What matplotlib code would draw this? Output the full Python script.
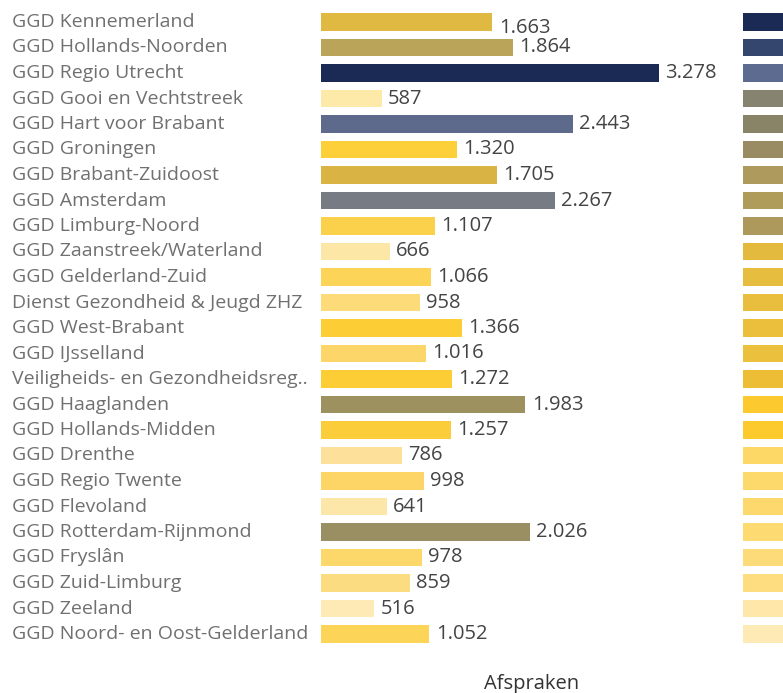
import matplotlib
matplotlib.use("Agg")
import matplotlib.pyplot as plt
from matplotlib.transforms import blended_transform_factory

regions = [
    "GGD Kennemerland", "GGD Hollands-Noorden", "GGD Regio Utrecht",
    "GGD Gooi en Vechtstreek", "GGD Hart voor Brabant", "GGD Groningen",
    "GGD Brabant-Zuidoost", "GGD Amsterdam", "GGD Limburg-Noord",
    "GGD Zaanstreek/Waterland", "GGD Gelderland-Zuid",
    "Dienst Gezondheid & Jeugd ZHZ", "GGD West-Brabant", "GGD IJsselland",
    "Veiligheids- en Gezondheidsreg..", "GGD Haaglanden", "GGD Hollands-Midden",
    "GGD Drenthe", "GGD Regio Twente", "GGD Flevoland", "GGD Rotterdam-Rijnmond",
    "GGD Fryslân", "GGD Zuid-Limburg", "GGD Zeeland",
    "GGD Noord- en Oost-Gelderland",
]
afspraken = [1663, 1864, 3278, 587, 2443, 1320, 1705, 2267, 1107, 666, 1066,
             958, 1366, 1016, 1272, 1983, 1257, 786, 998, 641, 2026, 978, 859,
             516, 1052]
bar_colors = ["#dfb942", "#b9a45a", "#1b2a55", "#fde9a8", "#5e6a8c", "#fdd03a",
              "#d9b444", "#777b83", "#fbd04a", "#fde7a6", "#fcd558", "#fddb78",
              "#fdcd35", "#fcd668", "#fccd35", "#9e9160", "#fccd3a", "#fde19a",
              "#fcd566", "#fde7a8", "#9a8f62", "#fcd86b", "#fcdc80", "#feeab4",
              "#fcd458"]

# second panel: bars are cut off by the right edge of the image
right_colors = ["#1b2a55", "#34456e", "#5d6b90", "#868470", "#898367", "#9a8c62",
                "#ad9a5c", "#b09c5a", "#ad995b", "#e3b93e", "#e6bd3e", "#e9be3e",
                "#ebbf3b", "#ebc03d", "#ecbd35", "#fcc92e", "#fdca2e", "#fdd866",
                "#fdd86a", "#fdd96d", "#fdda72", "#fddb78", "#fedc80", "#fee7a8",
                "#feeab4"]
right_visible = [1.0] * len(right_colors)  # clipped: true lengths not visible

W, H = 783, 693
fig = plt.figure(figsize=(W / 100, H / 100), dpi=100)
fig.patch.set_facecolor("white")

top_px, bot_px = 9.25, 646.75
ax_bottom = 1 - bot_px / H
ax_height = (bot_px - top_px) / H

left_px, right_px = 321, 735
ax = fig.add_axes([left_px / W, ax_bottom, (right_px - left_px) / W, ax_height])
n = len(regions)
y = list(range(n))
ax.barh(y, afspraken, height=0.7, color=bar_colors, edgecolor="none")
ax.set_ylim(n - 0.5, -0.5)
ax.set_xlim(0, max(afspraken) * (right_px - left_px) / 338.0)
ax.axis("off")

font = "Open Sans"
for i, (yi, v) in enumerate(zip(y, afspraken)):
    lab = f"{v:,}".replace(",", ".")
    dy = -4 if i == 0 else 0
    ax.annotate(lab, (v, yi), xytext=(4.5, dy), textcoords="offset points",
                va="center", ha="left", fontsize=14.5, color="#444444",
                family=font)

trans = blended_transform_factory(fig.transFigure, ax.transData)
for yi, name in zip(y, regions):
    ax.text(12 / W, yi, name, transform=trans, va="center", ha="left",
            fontsize=14, color="#707070", family=font)

fig.text(532 / W, 1 - 684 / H, "Afspraken", ha="center", va="center",
         fontsize=14.5, color="#333333", family=font)

ax2 = fig.add_axes([743 / W, ax_bottom, 0.3, ax_height])
ax2.barh(y, right_visible, height=0.7, color=right_colors, edgecolor="none")
ax2.set_ylim(n - 0.5, -0.5)
ax2.set_xlim(0, 1.0)
ax2.axis("off")

fig.savefig("out.png", dpi=100, facecolor="white")
